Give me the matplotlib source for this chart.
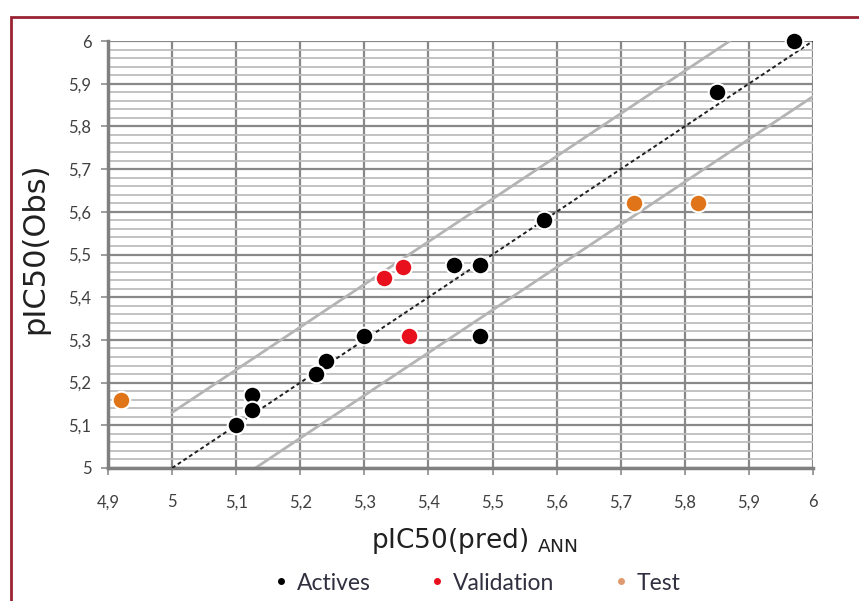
import matplotlib
matplotlib.use("Agg")
import matplotlib.pyplot as plt
from matplotlib.patches import Rectangle
from matplotlib.lines import Line2D
import numpy as np

# Data
actives_x = [5.97, 5.85, 5.58, 5.44, 5.48, 5.48, 5.30, 5.24, 5.225, 5.125, 5.125, 5.10]
actives_y = [6.00, 5.88, 5.58, 5.475, 5.475, 5.31, 5.31, 5.25, 5.22, 5.17, 5.135, 5.10]
valid_x = [5.33, 5.36, 5.37]
valid_y = [5.445, 5.47, 5.31]
test_x = [4.92, 5.72, 5.82]
test_y = [5.16, 5.62, 5.62]
x_ticks = [4.9, 5.0, 5.1, 5.2, 5.3, 5.4, 5.5, 5.6, 5.7, 5.8, 5.9, 6.0]
x_ticklabels = ["4,9", "5", "5,1", "5,2", "5,3", "5,4", "5,5", "5,6", "5,7", "5,8", "5,9", "6"]
y_ticks = [5.0, 5.1, 5.2, 5.3, 5.4, 5.5, 5.6, 5.7, 5.8, 5.9, 6.0]
y_ticklabels = ["5", "5,1", "5,2", "5,3", "5,4", "5,5", "5,6", "5,7", "5,8", "5,9", "6"]
ideal = [5.0, 6.0]
upper_x = [5.0, 5.87]
upper_y = [5.13, 6.0]
lower_x = [5.13, 6.0]
lower_y = [5.0, 5.87]

plt.rcParams['font.family'] = ['Lato', 'DejaVu Sans']

fig = plt.figure(figsize=(8.59, 6.01), dpi=100)
ax = fig.add_axes([108/859, 1-468/601, (813-108)/859, (468-41)/601])

ax.set_xlim(4.9, 6.0)
ax.set_ylim(5.0, 6.0)

# minor horizontal grid
ax.set_yticks(np.round(np.arange(5.0, 6.001, 0.02), 3), minor=True)
ax.grid(True, which='minor', axis='y', color='#bdbdbd', linewidth=1.3, zorder=0)
ax.grid(True, which='major', axis='both', color='#888888', linewidth=1.6, zorder=0)
ax.tick_params(which='minor', length=0)

ax.set_xticks(x_ticks)
ax.set_xticklabels(x_ticklabels)
ax.set_yticks(y_ticks)
ax.set_yticklabels(y_ticklabels)
ax.tick_params(which='major', length=5, color='#8c8c8c', width=1.2,
               labelsize=12, labelcolor='#404040', pad=7)
ax.tick_params(axis='x', pad=14)

for s in ['top', 'right']:
    ax.spines[s].set_visible(False)
for s in ['left', 'bottom']:
    ax.spines[s].set_color('#808080')
    ax.spines[s].set_linewidth(2.5)

ax.plot(upper_x, upper_y, color='#b4b4b4', linewidth=2, zorder=2)
ax.plot(lower_x, lower_y, color='#b4b4b4', linewidth=2, zorder=2)
ax.plot(ideal, ideal, color='#202020', linestyle=(0, (2, 1.5)), linewidth=1.4, zorder=3)

mk = dict(s=160, edgecolors='white', linewidths=1.5, zorder=5, clip_on=False)
ax.scatter(actives_x, actives_y, color='black', **mk)
ax.scatter(valid_x, valid_y, color='#e8101c', **mk)
ax.scatter(test_x, test_y, color='#e07418', **mk)

ax.set_xlabel('pIC50(pred) $_{\\mathregular{ANN}}$', fontsize=19, color='#202020',
              labelpad=5, family=['DejaVu Sans'])
ax.xaxis.set_label_coords(0.52, -0.135)
ax.set_ylabel('pIC50(Obs)', fontsize=22, color='#202020', labelpad=4,
              family=['DejaVu Sans'])
ax.yaxis.set_label_coords(-0.084, 0.515)

# legend
handles = [Line2D([], [], marker='o', linestyle='', color='black', markersize=4),
           Line2D([], [], marker='o', linestyle='', color='#e8101c', markersize=4),
           Line2D([], [], marker='o', linestyle='', color='#e09a70', markersize=4)]
fig.legend(handles, ['Actives', 'Validation', 'Test'], loc='center',
           bbox_to_anchor=(476/859, 1-583/601), ncol=3, frameon=False,
           fontsize=16.5, handletextpad=0.3, columnspacing=2.5, handlelength=0.8,
           labelcolor='#303040')

# frame
fig.patches.append(Rectangle((11/859, -0.1), 1.2, 1-17/601+0.1, transform=fig.transFigure,
                             fill=False, edgecolor='#9a2233', linewidth=2))

fig.savefig('out.png', dpi=100)
